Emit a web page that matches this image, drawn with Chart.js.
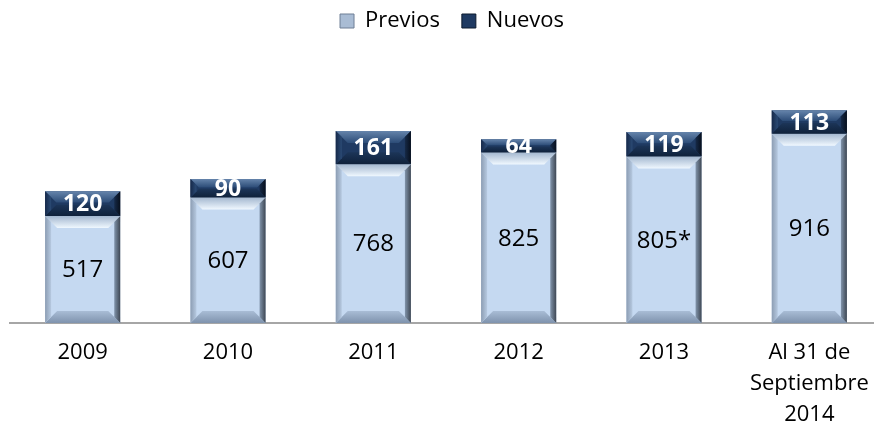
<!DOCTYPE html>
<html>
<head>
<meta charset="utf-8">
<script src="https://cdn.jsdelivr.net/npm/chart.js@4.4.1/dist/chart.umd.min.js"></script>
<style>
  html, body { margin: 0; padding: 0; background: #fff; overflow: hidden; }
  #wrap { width: 900px; height: 436px; }
</style>
</head>
<body>
<div id="wrap"><canvas id="chart"></canvas></div>
<script>
const years = ['2009', '2010', '2011', '2012', '2013', ['Al 31 de', 'Septiembre', '2014']];
const previos = [517, 607, 768, 825, 805, 916];
const nuevos = [120, 90, 161, 64, 119, 113];
const previosNotes = ['', '', '', '', '*', ''];

const FONT = "'Open Sans', 'Noto Sans', sans-serif";

// shade a bar with a bevelled look, using the bar element's own geometry
function bevel(ctx, bar, light)
{
    const left = bar.x - bar.width / 2;
    const right = bar.x + bar.width / 2;
    const top = Math.min(bar.y, bar.base);
    const bottom = Math.max(bar.y, bar.base);
    const h = bottom - top;
    const b = Math.min(12, h / 2.2);
    const side = 6;

    ctx.save();
    // top face
    let g = ctx.createLinearGradient(0, top, 0, top + b);
    if (light) { g.addColorStop(0, '#a3b7cf'); g.addColorStop(1, '#f0f8ff'); }
    else { g.addColorStop(0, '#6584ab'); g.addColorStop(1, '#2c4c77'); }
    ctx.fillStyle = g;
    ctx.beginPath();
    ctx.moveTo(left, top); ctx.lineTo(right, top);
    ctx.lineTo(right - b, top + b); ctx.lineTo(left + b, top + b);
    ctx.closePath(); ctx.fill();

    // bottom face
    g = ctx.createLinearGradient(0, bottom - b, 0, bottom);
    if (light) { g.addColorStop(0, '#a9bdd6'); g.addColorStop(1, '#7f93ad'); }
    else { g.addColorStop(0, '#1c3558'); g.addColorStop(1, '#0f213a'); }
    ctx.fillStyle = g;
    ctx.beginPath();
    ctx.moveTo(left, bottom); ctx.lineTo(right, bottom);
    ctx.lineTo(right - b, bottom - b); ctx.lineTo(left + b, bottom - b);
    ctx.closePath(); ctx.fill();

    // left face
    const s = Math.min(side, b);
    g = ctx.createLinearGradient(left, 0, left + side, 0);
    if (light) { g.addColorStop(0, '#8c9db3'); g.addColorStop(1, '#b6c9e0'); }
    else { g.addColorStop(0, '#16294a'); g.addColorStop(1, '#2b4b75'); }
    ctx.fillStyle = g;
    ctx.beginPath();
    ctx.moveTo(left, top); ctx.lineTo(left + s, top + s);
    ctx.lineTo(left + s, bottom - s); ctx.lineTo(left, bottom);
    ctx.closePath(); ctx.fill();

    // right face
    g = ctx.createLinearGradient(right - side, 0, right, 0);
    if (light) { g.addColorStop(0, '#8194ab'); g.addColorStop(1, '#3e4753'); }
    else { g.addColorStop(0, '#162a48'); g.addColorStop(1, '#070f1c'); }
    ctx.fillStyle = g;
    ctx.beginPath();
    ctx.moveTo(right, top); ctx.lineTo(right - s, top + s);
    ctx.lineTo(right - s, bottom - s); ctx.lineTo(right, bottom);
    ctx.closePath(); ctx.fill();
    ctx.restore();
}

const bevelAndLabels = {
    id: 'bevelAndLabels',
    afterDatasetsDraw(chart)
    {
        const ctx = chart.ctx;
        chart.data.datasets.forEach((ds, di) => {
            const meta = chart.getDatasetMeta(di);
            meta.data.forEach((bar) => bevel(ctx, bar, di === 0));
        });
        chart.data.datasets.forEach((ds, di) => {
            const meta = chart.getDatasetMeta(di);
            meta.data.forEach((bar, i) => {
                const cy = (bar.y + bar.base) / 2;
                ctx.save();
                ctx.textAlign = 'center';
                ctx.textBaseline = 'middle';
                if (di === 0)
                {
                    ctx.fillStyle = '#000';
                    ctx.font = '24px ' + FONT;
                    ctx.fillText(ds.data[i] + previosNotes[i], bar.x, cy + 1);
                }
                else
                {
                    ctx.fillStyle = '#fff';
                    ctx.font = 'bold 23px ' + FONT;
                    ctx.fillText(ds.data[i], bar.x, cy + 1);
                }
                ctx.restore();
            });
        });
    }
};

// leave a gap under the legend like the original, and nudge it right a little
const legendGap = {
    id: 'legendGap',
    beforeInit(chart)
    {
        const fit = chart.legend.fit;
        chart.legend.fit = function () {
            fit.bind(chart.legend)();
            this.height += 33;
        };
    },
    afterLayout(chart)
    {
        chart.legend.left += 6;
        chart.legend.right += 6;
    }
};

const ctx = document.getElementById('chart').getContext('2d');
const myChart = new Chart(ctx, {
    type: 'bar',
    data: {
        labels: years,
        datasets: [
            {
                label: 'Previos',
                data: previos,
                backgroundColor: '#c5d9f1',
                borderWidth: 0
            },
            {
                label: 'Nuevos',
                data: nuevos,
                backgroundColor: '#1f3a62',
                borderWidth: 0
            }
        ]
    },
    options: {
        responsive: true,
        maintainAspectRatio: false,
        animation: false,
        layout: { padding: { left: 10, right: 18, top: -12, bottom: 0 } },
        datasets: { bar: { categoryPercentage: 1, barPercentage: 0.517 } },
        plugins: {
            tooltip: { enabled: false },
            legend: {
                position: 'top',
                labels: {
                    font: { family: FONT, size: 22 },
                    color: '#000',
                    boxWidth: 14,
                    boxHeight: 14,
                    padding: 22,
                    generateLabels(chart) {
                        return chart.data.datasets.map((ds, i) => ({
                            text: ds.label,
                            fillStyle: i === 0 ? '#a9bcd4' : '#1f3a62',
                            strokeStyle: i === 0 ? '#6f7f95' : '#0c1a2e',
                            lineWidth: 1,
                            datasetIndex: i
                        }));
                    }
                }
            }
        },
        scales: {
            x: {
                stacked: true,
                grid: { display: false },
                border: { color: '#a6a6a6', width: 2 },
                ticks: {
                    color: '#000',
                    font: { family: FONT, size: 22, lineHeight: 1.41 },
                    padding: 6,
                    maxRotation: 0,
                    autoSkip: false
                }
            },
            y: {
                stacked: true,
                display: false,
                min: 0,
                max: 1200
            }
        }
    },
    plugins: [bevelAndLabels, legendGap]
});
</script>
</body>
</html>
